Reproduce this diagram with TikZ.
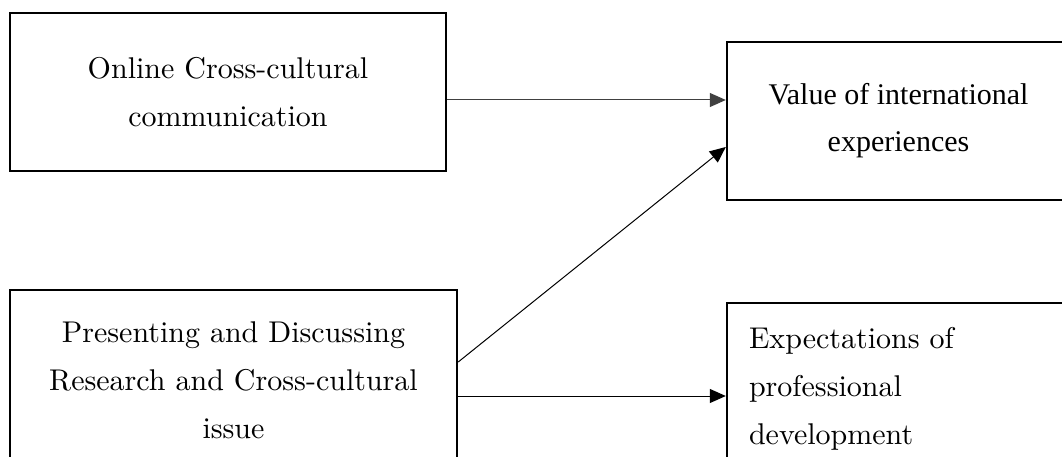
\documentclass[tikz,border=0pt]{standalone}
\usepackage{fontspec}
\setmainfont{lmroman10-regular}[Extension=.otf]
\newfontfamily\garfont{Liberation Serif}
\usetikzlibrary{arrows.meta}
\tikzset{
  boxnode/.style={draw=black, line width=2.4pt, rectangle, inner sep=0pt,
    font=\fontsize{30}{48}\selectfont, align=center},
  link/.style={line width=1pt, -{Triangle[length=16pt,width=14pt]}},
}
\begin{document}
\begin{tikzpicture}[x=1pt,y=-1pt]
\clip (0,0) rectangle (1062,457);
\fill[white] (0,0) rectangle (1062,457);
\node[boxnode, minimum width=436pt, minimum height=158pt] (A) at (228,92)
  {Online Cross-cultural\\communication};
\node[boxnode, minimum width=343pt, minimum height=158pt, font=\garfont\fontsize{30}{47}\selectfont] (B) at (898.5,121)
  {Value of international\\experiences};
\node[boxnode, minimum width=447pt, minimum height=180pt] (C) at (233.5,380)
  {Presenting and Discussing\\Research and Cross-cultural\\issue};
\node[boxnode, minimum width=360pt, minimum height=172pt, text width=316pt, align=left] (D) at (907,389)
  {Expectations of\\professional\\development};
\draw[link, draw=black!75, fill=black] ([yshift=-8pt]A.east) -- ([yshift=-8pt]A.east -| B.west);
\draw[link] ([yshift=18pt]C.east) -- ([yshift=-26pt]B.west);
\draw[link] ([yshift=-16pt]C.east) -- ([yshift=-16pt]C.east -| D.west);
\end{tikzpicture}
\end{document}
